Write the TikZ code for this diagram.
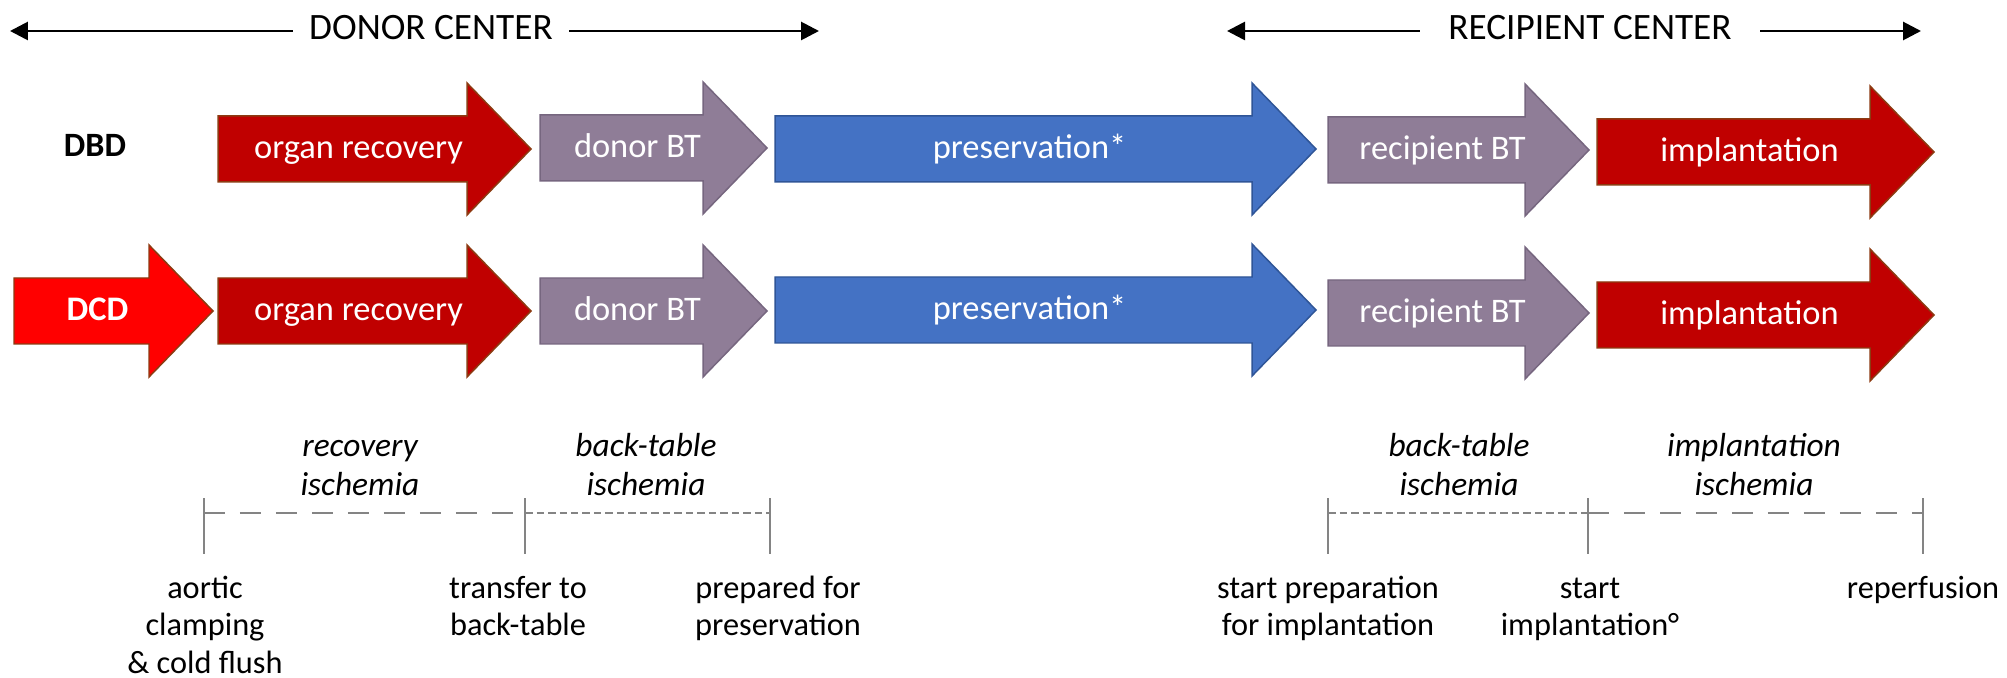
\documentclass[tikz,border=0pt]{standalone}
\usepackage{fontspec}
\setmainfont{Carlito}
\usepackage{tikz}
\usetikzlibrary{arrows.meta}

\definecolor{organred}{HTML}{C00000}
\definecolor{dcdred}{HTML}{FF0000}
\definecolor{rimbrown}{HTML}{8C3B12}
\definecolor{btpurple}{HTML}{8F7D97}
\definecolor{btrim}{HTML}{76667F}
\definecolor{presblue}{HTML}{4472C4}
\definecolor{presrim}{HTML}{2F5597}
\definecolor{tlgray}{HTML}{848484}

\tikzset{
  redstage/.style={fill=organred, draw=rimbrown},
  dcdstage/.style={fill=dcdred, draw=rimbrown},
  btstage/.style={fill=btpurple, draw=btrim},
  presstage/.style={fill=presblue, draw=presrim},
  stagetext/.style={text=white, font=\fontsize{19.6}{23}\selectfont, anchor=base, inner sep=0pt},
  header/.style={font=\fontsize{21.2}{25}\selectfont, anchor=base, inner xsep=0.32cm, inner ysep=0pt},
  span/.style={line width=1.6pt, {Triangle[length=0.36cm,width=0.36cm]}-},
  period/.style={font=\itshape\fontsize{19}{22.2}\selectfont, align=center, anchor=north, inner sep=0pt},
  event/.style={font=\fontsize{18.4}{21.3}\selectfont, align=center, anchor=north, inner sep=0pt},
  tick/.style={draw=tlgray, line width=1.4pt},
  longdash/.style={draw=tlgray, line width=1.6pt, dash pattern=on 0.42cm off 0.3cm},
  shortdash/.style={draw=tlgray, line width=1.6pt, dash pattern=on 0.15cm off 0.08cm},
}

% block arrow: name, style, left x, head x, centre y, text
\newcommand{\stagearrow}[6]{%
  \draw[#2, line width=0.85pt, line join=miter]
    (#3,#5-33) -- (#4,#5-33) -- (#4,#5-66) -- (#4+64,#5)
    -- (#4,#5+66) -- (#4,#5+33) -- (#3,#5+33) -- cycle;
  \node[stagetext] (#1) at ({(#3+#4)/2+16},#5+10) {#6};
}

\begin{document}
\begin{tikzpicture}[x=0.02cm, y=-0.02cm]
  \useasboundingbox (0,0) rectangle (2007,678);

  % centres
  \node[header] (donor) at (431,40) {DONOR CENTER};
  \node[header, inner xsep=0.56cm] (recip) at (1590,40) {RECIPIENT CENTER};
  \coordinate (donorL) at (10,31);
  \coordinate (donorR) at (819,31);
  \coordinate (recipL) at (1227,31);
  \coordinate (recipR) at (1921,31);
  \draw[span] (donorL) -- (donor.west |- donorL);
  \draw[span] (donorR) -- (donor.east |- donorR);
  \draw[span] (recipL) -- (recip.west |- recipL);
  \draw[span] (recipR) -- (recip.east |- recipR);

  % DBD row
  \node[font=\bfseries\fontsize{19.4}{23}\selectfont, anchor=base] (dbd) at (95,157) {DBD};
  \stagearrow{rec1}{redstage}{218}{467}{149}{organ recovery}
  \stagearrow{dbt1}{btstage}{540}{703}{148}{donor BT}
  \stagearrow{pres1}{presstage}{775}{1252}{149}{preservation*}
  \stagearrow{rbt1}{btstage}{1328}{1525}{150}{recipient BT}
  \stagearrow{imp1}{redstage}{1597}{1870}{152}{implantation}

  % DCD row
  \stagearrow{dcd}{dcdstage}{14}{149}{311}{\textbf{DCD}}
  \stagearrow{rec2}{redstage}{218}{467}{311}{organ recovery}
  \stagearrow{dbt2}{btstage}{540}{703}{311}{donor BT}
  \stagearrow{pres2}{presstage}{775}{1252}{310}{preservation*}
  \stagearrow{rbt2}{btstage}{1328}{1525}{313}{recipient BT}
  \stagearrow{imp2}{redstage}{1597}{1870}{315}{implantation}

  % ischemia timeline
  \coordinate (t1) at (204,513);
  \coordinate (t2) at (525,513);
  \coordinate (t3) at (770,513);
  \coordinate (t4) at (1328,513);
  \coordinate (t5) at (1588,513);
  \coordinate (t6) at (1923,513);
  \draw[longdash] (t1) -- (t2);
  \draw[shortdash] (t2) -- (t3);
  \draw[shortdash] (t4) -- (t5);
  \draw[longdash] (t5) -- (t6);
  \foreach \t in {t1,t2,t3,t4,t5,t6}
    \draw[tick] ([yshift=0.3cm]\t) -- ([yshift=-0.82cm]\t);

  \node[period] (recisch) at (360,429) {\strut recovery\\ischemia};
  \node[period] (dbtisch) at (646,429) {\strut back-table\\ischemia};
  \node[period] (rbtisch) at (1459,429) {\strut back-table\\ischemia};
  \node[period] (impisch) at (1754,429) {\strut implantation\\ischemia};

  \node[event] (clamp) at (205,572) {\strut aortic\\clamping\\\& cold flush};
  \node[event] (transfer) at (518,572) {\strut transfer to\\back-table};
  \node[event] (prepared) at (778,572) {\strut prepared for\\preservation};
  \node[event] (startprep) at (1328,572) {\strut start preparation\\for implantation};
  \node[event] (startimp) at (1590,572) {\strut start\\implantation°};
  \node[event] (reperf) at (1923,572) {\strut reperfusion};
\end{tikzpicture}
\end{document}
